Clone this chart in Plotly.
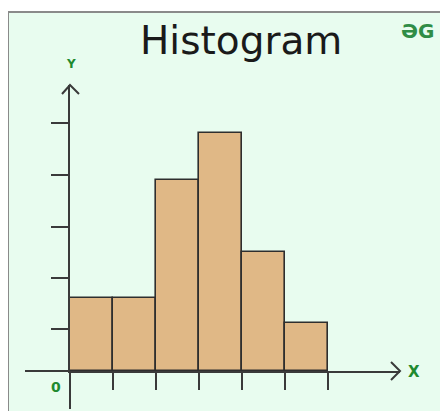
import plotly.graph_objects as go

# ---- data ----
bin_edges = [0, 1, 2, 3, 4, 5, 6]
frequencies = [1.42, 1.42, 3.71, 4.62, 2.31, 0.93]
y_tick_positions = [0.82, 1.81, 2.80, 3.81, 4.82]
x_tick_positions = [0, 1, 2, 3, 4, 5, 6]
title_text = "Histogram"
x_label, y_label, origin_label = "X", "Y", "0"

# page body has an 8px default margin: figure is placed at (8, 8) in the window
OFF = 8
W, H = 448 - OFF, 411 - OFF
L, R, T, B = 70, 400, 85, 371  # plot area in window pixels
XMAX = (R - L) / 43.0
YMAX = (B - T) / 51.5


def px(x):
    return (x - L) / (R - L)


def py(y):
    return (B - y) / (B - T)


AXIS = "#3a3a3a"
GREEN = "#1f8a2f"

centers = [(a + b) / 2 for a, b in zip(bin_edges[:-1], bin_edges[1:])]
widths = [b - a for a, b in zip(bin_edges[:-1], bin_edges[1:])]

fig = go.Figure(go.Bar(
    x=centers, y=frequencies, width=widths,
    marker=dict(color="#e0b886", line=dict(color="#2e2e2e", width=1.6)),
    hoverinfo="skip",
))

shapes = [
    # frame / background
    dict(type="rect", xref="paper", yref="paper",
         x0=px(8), x1=px(470), y0=py(12), y1=py(430),
         fillcolor="#e8fcef", line=dict(color="#8a8a8a", width=2), layer="below"),
    # axis extensions
    dict(type="line", xref="paper", yref="paper", x0=px(25), x1=px(70), y0=0, y1=0,
         line=dict(color=AXIS, width=2)),
    dict(type="line", xref="paper", yref="paper", x0=0, x1=0, y0=py(409), y1=0,
         line=dict(color=AXIS, width=2)),
    # arrow heads
    dict(type="path", xref="paper", yref="paper",
         path=f"M {px(391)} {py(362)} L {px(400)} {py(371)} L {px(391)} {py(380)}",
         line=dict(color=AXIS, width=2)),
    dict(type="path", xref="paper", yref="paper",
         path=f"M {px(62)} {py(94)} L {px(70)} {py(85)} L {px(79)} {py(94)}",
         line=dict(color=AXIS, width=2)),
]

annotations = [
    dict(text=title_text, xref="paper", yref="paper", x=px(241), y=py(40),
         showarrow=False, xanchor="center", yanchor="middle",
         font=dict(family="DejaVu Sans", size=39, color="#1a1a1a")),
    dict(text="<b>ƏG</b>", xref="paper", yref="paper", x=px(417), y=py(31),
         showarrow=False, xanchor="center", yanchor="middle",
         font=dict(family="DejaVu Sans", size=20, color="#2f8d46")),
    dict(text=f"<b>{y_label}</b>", xref="paper", yref="paper", x=px(71), y=py(64),
         showarrow=False, xanchor="center", yanchor="middle",
         font=dict(family="DejaVu Sans", size=12, color=GREEN)),
    dict(text=f"<b>{x_label}</b>", xref="paper", yref="paper", x=px(414), y=py(372),
         showarrow=False, xanchor="center", yanchor="middle",
         font=dict(family="DejaVu Sans", size=15, color=GREEN)),
    dict(text=f"<b>{origin_label}</b>", xref="paper", yref="paper", x=px(56), y=py(387),
         showarrow=False, xanchor="center", yanchor="middle",
         font=dict(family="DejaVu Sans", size=14, color=GREEN)),
]

fig.update_layout(
    width=W, height=H,
    margin=dict(l=L - OFF, r=448 - R, t=T - OFF, b=411 - B, pad=0),
    paper_bgcolor="white", plot_bgcolor="rgba(0,0,0,0)",
    showlegend=False, bargap=0,
    shapes=shapes, annotations=annotations,
    xaxis=dict(range=[0, XMAX], showgrid=False, zeroline=False,
               showline=True, linecolor=AXIS, linewidth=2,
               ticks="outside", ticklen=17, tickwidth=2, tickcolor=AXIS,
               tickvals=x_tick_positions, showticklabels=False, fixedrange=True),
    yaxis=dict(range=[0, YMAX], showgrid=False, zeroline=False,
               showline=True, linecolor=AXIS, linewidth=2,
               ticks="outside", ticklen=17, tickwidth=2, tickcolor=AXIS,
               tickvals=y_tick_positions, showticklabels=False, fixedrange=True),
)

fig.write_html("out.html", config=dict(displayModeBar=False))
